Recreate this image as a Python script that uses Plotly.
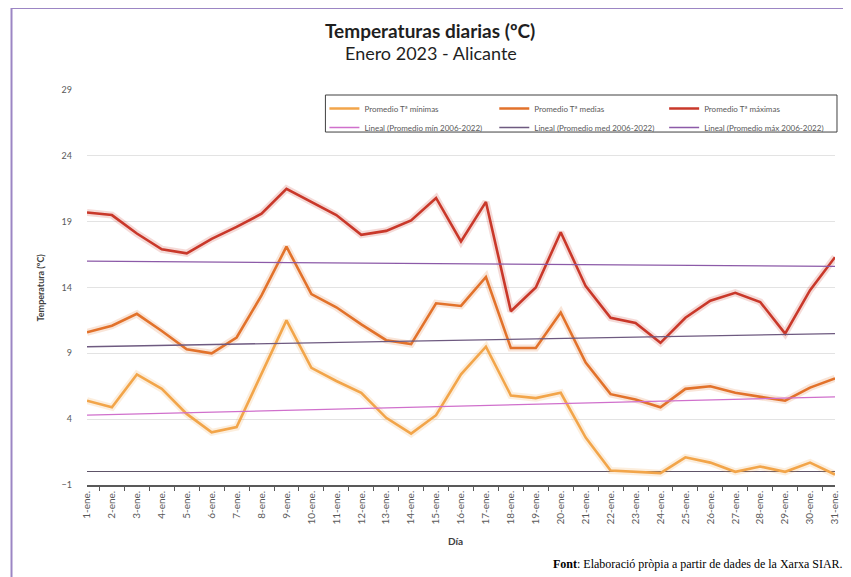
import plotly.graph_objects as go

# Data (January 2023, Alicante)
dias = [f"{d}-ene." for d in range(1, 32)]

t_minimas = [5.4, 4.9, 7.4, 6.3, 4.4, 3.0, 3.4, 7.4, 11.5, 7.9, 6.9, 6.0, 4.1, 2.9, 4.3, 7.4,
             9.5, 5.8, 5.6, 6.0, 2.6, 0.1, 0.0, -0.1, 1.1, 0.7, 0.0, 0.4, 0.0, 0.7, -0.2]
t_medias = [10.6, 11.1, 12.0, 10.7, 9.3, 9.0, 10.2, 13.4, 17.1, 13.5, 12.5, 11.2, 10.0, 9.7, 12.8, 12.6,
            14.8, 9.4, 9.4, 12.1, 8.3, 5.9, 5.5, 4.9, 6.3, 6.5, 6.0, 5.7, 5.4, 6.4, 7.1]
t_maximas = [19.7, 19.5, 18.1, 16.9, 16.6, 17.7, 18.6, 19.6, 21.5, 20.5, 19.5, 18.0, 18.3, 19.1, 20.8, 17.5,
             20.5, 12.2, 14.0, 18.2, 14.1, 11.7, 11.3, 9.8, 11.7, 13.0, 13.6, 12.9, 10.5, 13.8, 16.3]

# Linear trends 2006-2022 (start / end values)
trend_dias = [dias[0], dias[-1]]
lineal_min = [4.3, 5.7]
lineal_med = [9.5, 10.5]
lineal_max = [16.0, 15.6]

FONT = "Lato"
TEXT_GRAY = "#595959"

# the page body has an 8px margin, so the figure starts at (8, 8) of the window
OFF = 8
W, H = 851 - OFF, 577 - OFF
# plot area, in window pixels: x 87..840, y 90..484.6
L, R = 87 - OFF, 851 - 840
T, B = 90 - OFF, 577 - 484.6
PW, PH = W - L - R, H - T - B


def px_x(px):
    # window pixel -> paper x
    return (px - OFF - L) / PW


def px_y(py):
    # window pixel -> paper y
    return (H - B - (py - OFF)) / PH


fig = go.Figure()

# each column of the legend box is its own legend: (measured, trend)
series = [
    ("Promedio Tª mínimas", t_minimas, "#F2A54A", "legend"),
    ("Promedio Tª medias", t_medias, "#E2722B", "legend2"),
    ("Promedio Tª máximas", t_maximas, "#C9382A", "legend3"),
]
for name, vals, color, leg in series:
    # soft glow behind the line
    fig.add_trace(go.Scatter(x=dias, y=vals, mode="lines", showlegend=False, hoverinfo="skip",
                             line=dict(color=color, width=7), opacity=0.18))
    fig.add_trace(go.Scatter(x=dias, y=vals, mode="lines", name=name, legend=leg,
                             line=dict(color=color, width=2.6)))

trends = [
    ("Lineal (Promedio mín 2006-2022)", lineal_min, "#D070CC", "legend"),
    ("Lineal (Promedio med 2006-2022)", lineal_med, "#6E5A80", "legend2"),
    ("Lineal (Promedio máx 2006-2022)", lineal_max, "#8C5AA8", "legend3"),
]
for name, vals, color, leg in trends:
    fig.add_trace(go.Scatter(x=trend_dias, y=vals, mode="lines", name=name, legend=leg,
                             line=dict(color=color, width=1.3)))

fig.update_xaxes(
    type="category", categoryorder="array", categoryarray=dias,
    tickangle=-90, tickfont=dict(family=FONT, size=10, color=TEXT_GRAY),
    showline=True, linecolor="#595959", linewidth=1.5,
    ticks="outside", ticklen=4, tickcolor="#595959", tickson="boundaries",
    showgrid=False,
)
fig.update_yaxes(
    range=[-1, 29], tick0=-1, dtick=5,
    tickfont=dict(family=FONT, size=9, color=TEXT_GRAY),
    showgrid=True, gridcolor="#E3E3E3", gridwidth=1.2,
    zeroline=True, zerolinecolor="#5E5468", zerolinewidth=1.3,
    showline=False, ticks="", ticklabelstandoff=14,
)

annotations = [
    dict(text="<b>Temperaturas diarias (ºC)</b>", x=px_x(432), y=px_y(31),
         font=dict(family=FONT, size=19, color="#1F1F1F")),
    dict(text="Enero 2023 - Alicante", x=px_x(433), y=px_y(53),
         font=dict(family=FONT, size=18, color="#1F1F1F")),
    dict(text="<b>Temperatura (ºC)</b>", x=px_x(40), y=px_y(287), textangle=-90,
         font=dict(family=FONT, size=9, color="#404040")),
    dict(text="<b>Día</b>", x=px_x(458), y=px_y(541),
         font=dict(family=FONT, size=10, color="#404040")),
    dict(text="<b>Font</b>: Elaboració pròpia a partir de dades de la Xarxa SIAR.",
         x=px_x(850), y=px_y(564), xanchor="right",
         font=dict(family="Liberation Serif", size=12, color="#000000")),
]
for a in annotations:
    a.update(xref="paper", yref="paper", showarrow=False)
    a.setdefault("xanchor", "center")
    a.setdefault("yanchor", "middle")

shapes = [
    # purple frame (left and top edges)
    dict(type="line", xref="paper", yref="paper", x0=px_x(11), x1=px_x(11), y0=px_y(8), y1=px_y(577),
         line=dict(color="#9C86C4", width=2)),
    dict(type="line", xref="paper", yref="paper", x0=px_x(11), x1=px_x(851), y0=px_y(8), y1=px_y(8),
         line=dict(color="#9C86C4", width=2)),
    # legend box
    dict(type="rect", xref="paper", yref="paper", x0=px_x(327), x1=px_x(842), y0=px_y(95), y1=px_y(132),
         line=dict(color="#404040", width=1), fillcolor="white", layer="below"),
]

legend_style = dict(
    orientation="v", xanchor="left", yanchor="top", y=px_y(94),
    bgcolor="rgba(0,0,0,0)", borderwidth=0,
    font=dict(family=FONT, size=8, color=TEXT_GRAY),
    itemwidth=30, tracegroupgap=0,
)

fig.update_layout(
    width=W, height=H,
    margin=dict(l=L, r=R, t=T, b=B),
    plot_bgcolor="white", paper_bgcolor="white",
    showlegend=True,
    legend=dict(legend_style, x=px_x(326)),
    legend2=dict(legend_style, x=px_x(497)),
    legend3=dict(legend_style, x=px_x(668)),
    annotations=annotations,
    shapes=shapes,
)

fig.write_html("out.html")
